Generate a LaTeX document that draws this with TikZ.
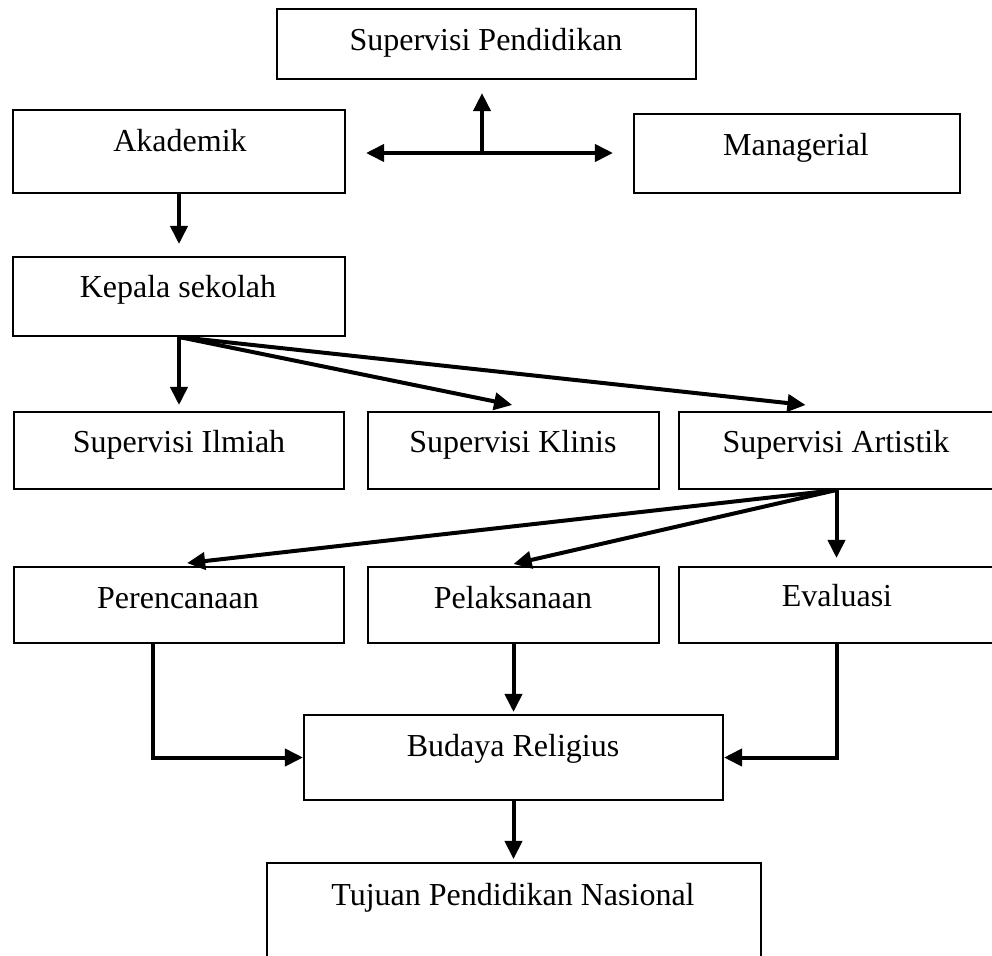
\documentclass[tikz,border=0pt]{standalone}
\usepackage{fontspec}
\setmainfont{Liberation Serif}
\usetikzlibrary{arrows.meta,fit}
\begin{document}
\begin{tikzpicture}[x=0.375pt,y=-0.375pt,
  box/.style={draw, line width=0.75pt, inner sep=0pt},
  lbl/.style={anchor=base, inner sep=0pt, font=\fontsize{12pt}{14pt}\selectfont},
  arr/.style={line width=1.5pt, -{Triangle[length=6.8pt,width=6.4pt]}},
  arrboth/.style={line width=1.5pt, {Triangle[length=6.8pt,width=6.4pt]}-{Triangle[length=6.8pt,width=6.4pt]}},
]
\useasboundingbox[fill=white] (0,0) rectangle (992,956);

% boxes
\node[box, fit={(277,9) (696,79)}] (sp) {};
\node[box, fit={(13,110) (345,193)}] (akd) {};
\node[box, fit={(634,114) (960,193)}] (man) {};
\node[box, fit={(13,257) (345,336)}] (kep) {};
\node[box, fit={(14,412) (344,489)}] (ilm) {};
\node[box, fit={(368,412) (659,489)}] (kli) {};
\node[box, fit={(679,412) (994,489)}] (art) {};
\node[box, fit={(14,567) (344,643)}] (per) {};
\node[box, fit={(368,567) (659,643)}] (pel) {};
\node[box, fit={(679,567) (994,643)}] (eva) {};
\node[box, fit={(304,715) (723,800)}] (bud) {};
\node[box, fit={(267,863) (761,970)}] (tuj) {};

% labels
\node[lbl] (tsp)  at (486,51)  {Supervisi Pendidikan};
\node[lbl] (takd) at (180,152) {Akademik};
\node[lbl] (tman) at (796,155) {Managerial};
\node[lbl] (tkep) at (178,297) {Kepala sekolah};
\node[lbl] (tilm) at (179,452) {Supervisi Ilmiah};
\node[lbl] (tkli) at (513,452) {Supervisi Klinis};
\node[lbl] (tart) at (836,452) {Supervisi Artistik};
\node[lbl] (tper) at (178,608) {Perencanaan};
\node[lbl] (tpel) at (513,608) {Pelaksanaan};
\node[lbl] (teva) at (837,606) {Evaluasi};
\node[lbl] (tbud) at (513,756) {Budaya Religius};
\node[lbl] (ttuj) at (513,905) {Tujuan Pendidikan Nasional};

% connectors
\coordinate (j) at (482,153);
\draw[arr, shorten >=4.9pt] (j) -- (j |- sp.south);
\draw[arrboth, shorten <=7.5pt, shorten >=7.5pt] (akd.east |- j) -- (man.west |- j);
\draw[arr, shorten >=4.5pt] (akd.south) -- (kep.north);

\draw[arr, shorten >=2.25pt] (kep.south) -- (ilm.north);
\draw[arr] (kep.south) -- ([xshift=-0.5pt,yshift=2.25pt]kli.north);
\draw[arr] (kep.south) -- ([xshift=-11.6pt,yshift=2.25pt]art.north);

\draw[arr] (art.south) -- ([xshift=3pt,yshift=1.1pt]per.north);
\draw[arr] (art.south) -- ([yshift=0.75pt]pel.north);
\draw[arr, shorten >=3pt] (art.south) -- (eva.north);

\draw[arr] ([xshift=-9.75pt]per.south) |- (bud.west);
\draw[arr, shorten >=0.75pt] (pel.south) -- (pel.south |- bud.north);
\draw[arr] (eva.south) |- (bud.east);
\draw[arr, shorten >=1.1pt] (bud.south) -- (bud.south |- tuj.north);
\end{tikzpicture}
\end{document}
